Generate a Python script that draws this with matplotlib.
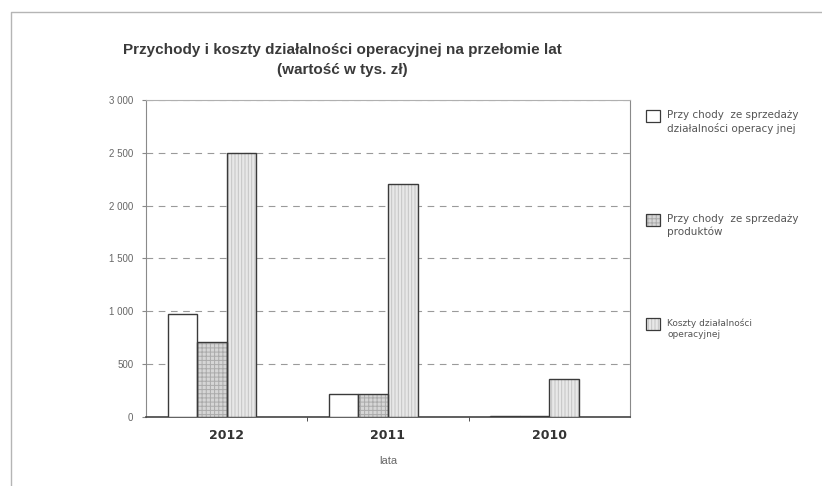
import matplotlib.pyplot as plt
import matplotlib.patches as mpatches
import matplotlib.lines as mlines
import numpy as np

plt.rcParams['font.family'] = ['Liberation Sans', 'DejaVu Sans']
plt.rcParams['hatch.linewidth'] = 0.7

years = ['2012', '2011', '2010']
przychody_dzialalnosc = [970, 215, 5]
przychody_produkty = [710, 215, 5]
koszty_dzialalnosci = [2500, 2200, 360]

labels = ['Przy chody  ze sprzedaży\ndziałalności operacy jnej',
          'Przy chody  ze sprzedaży\nproduktów',
          'Koszty działalności\noperacyjnej']
yticks = [0, 500, 1000, 1500, 2000, 2500, 3000]
ytick_labels = ['0', '500', '1 000', '1 500', '2 000', '2 500', '3 000']

# fill, hatch pattern and hatch colour of each series
styles = [dict(facecolor='white', hatch=None, hcolor='white'),
          dict(facecolor='#d6d6d6', hatch='++++', hcolor='#ababab'),
          dict(facecolor='#e8e8e8', hatch='|||||', hcolor='#c4c4c4')]
edge = '#3a3a3a'

fig = plt.figure(figsize=(8.22, 4.86), dpi=100)
ax = fig.add_axes([0.1776, 0.143, 0.5888, 0.6512])

x = np.arange(len(years))
w = 0.183
series = [przychody_dzialalnosc, przychody_produkty, koszty_dzialalnosci]
for i, (vals, st) in enumerate(zip(series, styles)):
    pos = x + (i - 1.5) * w
    # hatch takes the edge colour, so fill+hatch first, then the dark outline
    ax.bar(pos, vals, width=w, facecolor=st['facecolor'], hatch=st['hatch'],
           edgecolor=st['hcolor'], linewidth=0, zorder=3)
    ax.bar(pos, vals, width=w, facecolor='none', edgecolor=edge, linewidth=1.0, zorder=4)

ax.set_xlim(-0.5, 2.5)
ax.set_ylim(0, 3000)
ax.set_yticks(yticks)
ax.set_yticklabels(ytick_labels, fontsize=7, color='#666666')
ax.yaxis.grid(True, linestyle=(0, (6, 5)), color='#9a9a9a', linewidth=0.8, zorder=0)

# category labels centred, tick marks on the boundaries between years
ax.set_xticks(x)
ax.set_xticklabels(years, fontsize=9, fontweight='bold', color='#333333', family='DejaVu Sans')
ax.tick_params(axis='x', length=0, pad=9)
ax.set_xticks([0.5, 1.5], minor=True)
ax.tick_params(axis='x', which='minor', length=3, direction='out', color='#333333')
ax.tick_params(axis='y', length=3, color='#888888', pad=6)

for side in ['left', 'right', 'top']:
    ax.spines[side].set_color('#8a8a8a')
    ax.spines[side].set_linewidth(0.8)
ax.spines['top'].set_color('#b0b0b0')
ax.spines['bottom'].set_color('#444444')
ax.spines['bottom'].set_linewidth(1.2)

ax.set_xlabel('lata', fontsize=8, color='#666666', labelpad=10)

fig.text(0.417, 0.897, 'Przychody i koszty działalności operacyjnej na przełomie lat',
         ha='center', va='center', fontsize=11, fontweight='bold', color='#3a3a3a')
fig.text(0.417, 0.856, '(wartość w tys. zł)',
         ha='center', va='center', fontsize=11, fontweight='bold', color='#3a3a3a')

# legend drawn by hand, one entry per series
entry_y = [1 - 116 / 486, 1 - 220 / 486, 1 - 324 / 486]
font_sizes = [7.5, 7.5, 6.5]
for st, lab, yy, fs in zip(styles, labels, entry_y, font_sizes):
    rect = (646 / 822, yy - 6 / 486)
    fig.patches.append(mpatches.Rectangle(rect, 14 / 822, 12 / 486, transform=fig.transFigure,
                                          facecolor=st['facecolor'], hatch=st['hatch'],
                                          edgecolor=st['hcolor'], linewidth=0))
    fig.patches.append(mpatches.Rectangle(rect, 14 / 822, 12 / 486, transform=fig.transFigure,
                                          facecolor='none', edgecolor=edge, linewidth=0.9))
    fig.text(667 / 822, yy + 6 / 486, lab, ha='left', va='top', fontsize=fs,
             color='#555555', linespacing=1.3, family='DejaVu Sans')

# outer frame of the chart area
fig.add_artist(mlines.Line2D([11 / 822, 11 / 822, 1.0], [0.0, 1 - 12 / 486, 1 - 12 / 486],
                             transform=fig.transFigure, color='#b5b5b5', linewidth=1.0))

fig.savefig('out.png', dpi=100)
